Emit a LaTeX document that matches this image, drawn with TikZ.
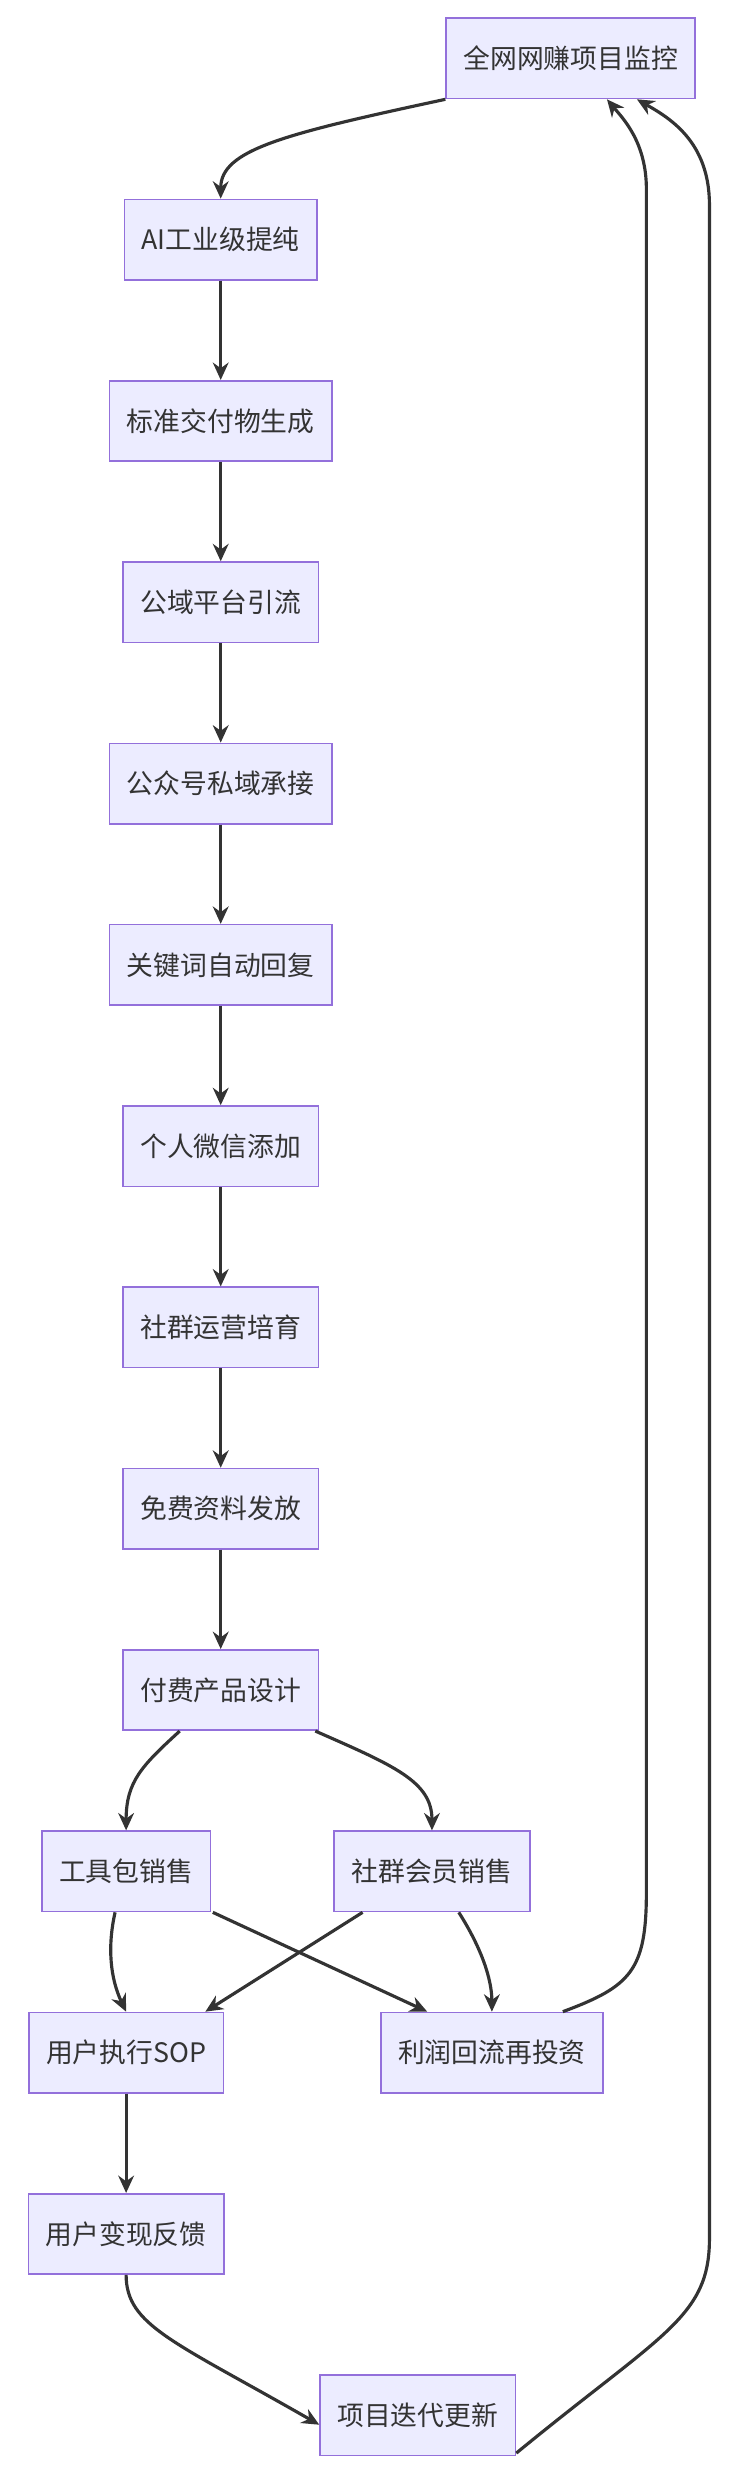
\documentclass[tikz,border=0pt]{standalone}
\usepackage{fontspec}
\setmainfont{Noto Sans CJK SC}
\usetikzlibrary{arrows.meta,positioning}
\definecolor{boxfill}{HTML}{ECECFF}
\definecolor{boxline}{HTML}{9370DB}
\definecolor{linkcol}{HTML}{333333}
\begin{document}
\begin{tikzpicture}[x=1pt,y=-1pt,
    stage/.style={draw=boxline,fill=boxfill,line width=1pt,minimum height=51pt,
      inner xsep=11pt,font=\fontsize{17}{20}\selectfont,text=linkcol},
    link/.style={draw=linkcol,line width=2pt,-{Stealth[length=11pt,width=10pt]}}]
  \useasboundingbox (0,0) rectangle (464,1568);

  \node[stage] (monitor) at (362,37) {全网网赚项目监控};
  \node[stage] (refine) at (140,152) {AI工业级提纯};
  \node[stage] (deliver) at (140,267) {标准交付物生成};
  \node[stage] (traffic) at (140,382) {公域平台引流};
  \node[stage] (wechat) at (140,497) {公众号私域承接};
  \node[stage] (reply) at (140,612) {关键词自动回复};
  \node[stage] (friend) at (140,727) {个人微信添加};
  \node[stage] (group) at (140,842) {社群运营培育};
  \node[stage] (free) at (140,957) {免费资料发放};
  \node[stage] (paid) at (140,1072) {付费产品设计};
  \node[stage] (tools) at (80,1187) {工具包销售};
  \node[stage] (member) at (274,1187) {社群会员销售};
  \node[stage] (sop) at (80,1302) {用户执行SOP};
  \node[stage] (profit) at (312,1302) {利润回流再投资};
  \node[stage] (feedback) at (80,1417) {用户变现反馈};
  \node[stage] (update) at (265,1532) {项目迭代更新};

  \draw[link] (monitor.south west) .. controls (180,85) and (140,95) .. (refine.north);
  \foreach \a/\b in {refine/deliver,deliver/traffic,traffic/wechat,wechat/reply,
      reply/friend,friend/group,group/free,free/paid,sop/feedback}
    \draw[link] (\a) -- (\b);
  \draw[link] ([xshift=-26pt]paid.south) .. controls (90,1120) and (80,1130) .. (tools.north);
  \draw[link] ([xshift=60pt]paid.south) .. controls (250,1120) and (274,1130) .. (member.north);
  \draw[link] ([xshift=-7pt]tools.south) .. controls (68,1235) and (70,1255) .. (sop.north);
  \draw[link] ([xshift=55pt]tools.south) -- ([xshift=30pt]profit.north west);
  \draw[link] ([xshift=-44pt]member.south) -- ([xshift=-12pt]sop.north east);
  \draw[link] ([xshift=17pt]member.south) .. controls (305,1235) and (312,1255) .. (profit.north);
  \draw[link] ([xshift=45pt]profit.north) .. controls (400,1260) and (410,1250) .. (410,1200)
    -- (410,120) .. controls (410,90) and (395,75) .. ([xshift=23pt]monitor.south);
  \draw[link] ([yshift=-24pt]update.east) .. controls (420,1480) and (450,1470) .. (450,1420)
    -- (450,130) .. controls (450,90) and (425,75) .. ([xshift=42pt]monitor.south);
  \draw[link] (feedback.south) .. controls (80,1475) and (110,1485) .. ([yshift=-6pt]update.west);
\end{tikzpicture}
\end{document}
